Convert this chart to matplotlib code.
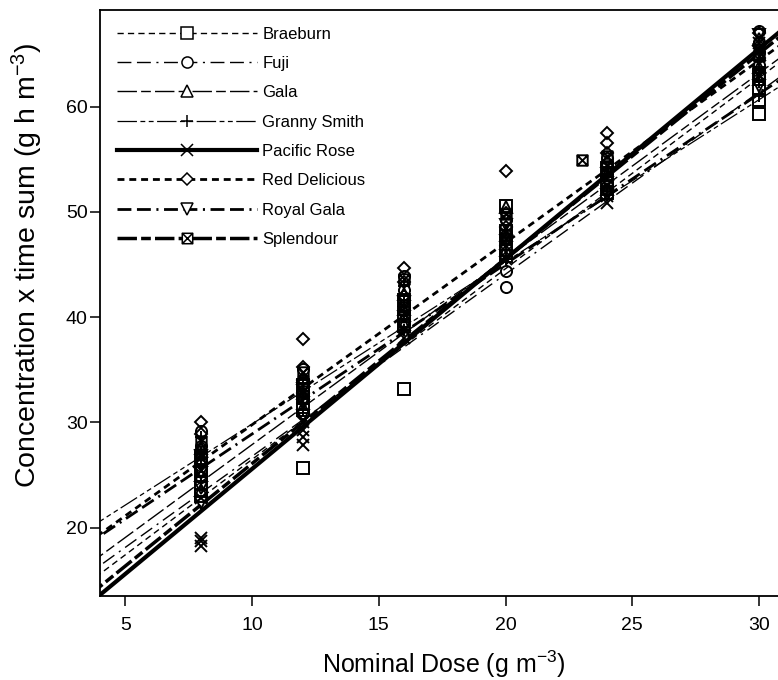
import numpy as np
import matplotlib
matplotlib.use('Agg')
import matplotlib.pyplot as plt
from matplotlib.path import Path
from matplotlib.lines import Line2D

plt.rcParams['font.family'] = ['Liberation Sans', 'DejaVu Sans']
plt.rcParams['mathtext.fontset'] = 'custom'
plt.rcParams['mathtext.rm'] = 'Liberation Sans'
plt.rcParams['mathtext.it'] = 'Liberation Sans:italic'
plt.rcParams['lines.scale_dashes'] = False

# ---- data ----
cultivars = ['Braeburn', 'Fuji', 'Gala', 'Granny Smith', 'Pacific Rose',
             'Red Delicious', 'Royal Gala', 'Splendour']

# fitted lines: slope and intercept for each cultivar
slopes = [1.813, 1.731, 1.765, 1.541, 1.996, 1.731, 1.616, 1.948]
intercepts = [8.35, 9.47, 10.24, 14.44, 5.62, 12.47, 12.74, 6.61]

# observations (dose, value) per cultivar
braeburn_x = [8, 8, 8, 8, 12, 12, 12, 12, 16, 16, 16, 16, 20, 20, 20, 20,
              24, 24, 24, 30, 30, 30, 30]
braeburn_y = [23.0, 24.2, 25.4, 26.6, 25.7, 31.2, 32.4, 33.6, 33.2, 39.2, 40.4, 41.6,
              50.6, 45.8, 47.0, 48.2, 51.8, 53.0, 54.2, 59.3, 60.6, 61.8, 63.0]
fuji_x = [8, 8, 8, 8, 12, 12, 12, 12, 16, 16, 16, 16, 20, 20, 20, 20,
          24, 24, 24, 30, 30, 30, 30]
fuji_y = [24.8, 26.3, 27.8, 29.2, 30.9, 32.3, 33.7, 35.1, 39.6, 41.2, 42.6, 43.9,
          42.9, 44.4, 47.8, 49.2, 52.5, 53.8, 55.1, 64.0, 65.2, 66.2, 67.2]
gala_x = [8, 8, 8, 8, 12, 12, 12, 16, 16, 16, 20, 20, 20, 24, 24, 24, 30, 30, 30, 30]
gala_y = [23.6, 25.0, 26.4, 27.6, 31.5, 32.8, 34.2, 39.4, 40.8, 42.2,
          46.4, 47.8, 50.5, 52.2, 53.6, 54.8, 62.6, 63.8, 65.0, 66.4]
granny_x = [8, 8, 8, 8, 12, 12, 12, 16, 16, 16, 16, 20, 20, 20, 24, 24, 30, 30, 30]
granny_y = [24.3, 25.8, 27.2, 28.6, 31.2, 32.6, 34.0, 38.8, 40.2, 41.6, 43.0,
            45.5, 46.9, 48.3, 52.0, 53.4, 61.0, 62.4, 63.6]
pacific_x = [8, 8, 8, 8, 12, 12, 12, 12, 16, 16, 20, 20, 24, 24, 24, 30, 30]
pacific_y = [18.3, 18.7, 19.0, 22.8, 27.9, 28.6, 29.3, 30.0, 38.0, 38.8,
             45.5, 46.2, 50.9, 51.5, 52.6, 65.5, 66.1]
reddel_x = [8, 8, 8, 8, 12, 12, 12, 12, 16, 16, 16, 20, 20, 20, 24, 24, 24, 30, 30, 30]
reddel_y = [30.0, 28.9, 27.4, 26.0, 37.9, 35.3, 34.0, 32.8, 44.7, 43.3, 42.0,
            53.9, 49.9, 48.6, 57.5, 56.6, 55.6, 67.0, 65.8, 64.6]
royal_x = [8, 8, 8, 8, 12, 12, 12, 16, 16, 16, 20, 20, 20, 24, 24, 30, 30, 30]
royal_y = [22.3, 23.8, 25.2, 26.8, 30.6, 31.8, 33.2, 39.0, 40.0, 41.4,
           45.8, 47.2, 48.8, 51.6, 52.8, 66.8, 62.0, 63.2]
splendour_x = [8, 8, 8, 12, 12, 16, 16, 20, 20, 23, 24, 24, 30, 30]
splendour_y = [27.0, 25.5, 28.2, 34.8, 33.0, 43.6, 41.0, 49.8, 47.5, 54.9,
               54.4, 55.3, 64.8, 63.0]

points_x = [braeburn_x, fuji_x, gala_x, granny_x, pacific_x, reddel_x, royal_x, splendour_x]
points_y = [braeburn_y, fuji_y, gala_y, granny_y, pacific_y, reddel_y, royal_y, splendour_y]

# boxed-x marker for Splendour
boxx = Path([(-1, -1), (1, -1), (1, 1), (-1, 1), (-1, -1),
             (-1, -1), (1, 1), (-1, 1), (1, -1)],
            [Path.MOVETO, Path.LINETO, Path.LINETO, Path.LINETO, Path.CLOSEPOLY,
             Path.MOVETO, Path.LINETO, Path.MOVETO, Path.LINETO])

markers = ['s', 'o', '^', '+', 'x', 'D', 'v', boxx]
msizes = [8, 8, 8, 9, 8, 6.5, 8, 7.5]
lwidths = [1.0, 1.0, 1.0, 0.9, 3.0, 2.0, 2.0, 2.5]
dashes = [(4.5, 3), (10, 4, 10, 4, 1.5, 4), (14, 3, 7, 3),
          (14, 2.5, 3.5, 2.5, 3.5, 2.5), None, (5, 3.5),
          (10, 4, 10, 4, 1.5, 4), (14, 3, 7, 3)]

fig = plt.figure(figsize=(7.78, 6.80), dpi=100)
ax = fig.add_axes([100 / 778, 84 / 680, 678 / 778, 586 / 680])

xfit = np.array([3.5, 31.5])
handles = []
for i, name in enumerate(cultivars):
    yfit = intercepts[i] + slopes[i] * xfit
    ln, = ax.plot(xfit, yfit, color='black', lw=lwidths[i], zorder=2)
    if dashes[i] is not None:
        ln.set_dashes(dashes[i])
    ax.plot(points_x[i], points_y[i], linestyle='none', marker=markers[i],
            ms=msizes[i], mfc='none', mec='black', mew=1.4, zorder=3)
    h = Line2D([], [], color='black', lw=lwidths[i], marker=markers[i],
               ms=msizes[i], mfc='white', mec='black', mew=1.1)
    if dashes[i] is not None:
        h.set_dashes(dashes[i])
    handles.append(h)

ax.set_xlim(4.0, 30.75)
ax.set_ylim(13.5, 69.2)
ax.set_xticks([5, 10, 15, 20, 25, 30])
ax.set_yticks([20, 30, 40, 50, 60])
ax.tick_params(axis='both', direction='out', length=7, width=1.1, labelsize=14)
ax.tick_params(axis='x', pad=8)
ax.tick_params(axis='y', pad=2)
for s in ['left', 'bottom', 'top']:
    ax.spines[s].set_linewidth(1.3)
ax.spines['right'].set_visible(False)

# axis titles placed in figure coordinates
fig.text(444 / 778, 7.5 / 680, 'Nominal Dose (g m$^{-3}$)', fontsize=18,
         ha='center', va='baseline')
fig.text(27 / 778, (680 - 265) / 680, 'Concentration x time sum (g h m$^{-3}$)',
         fontsize=20.5, rotation=90, ha='center', va='center')

ax.legend(handles, cultivars, loc='upper left', bbox_to_anchor=(0.0, 1.0),
          frameon=False, fontsize=12, handlelength=8.4, handletextpad=0.35,
          labelspacing=0.86, borderaxespad=0.6, numpoints=1)

fig.savefig('out.png', dpi=100)
